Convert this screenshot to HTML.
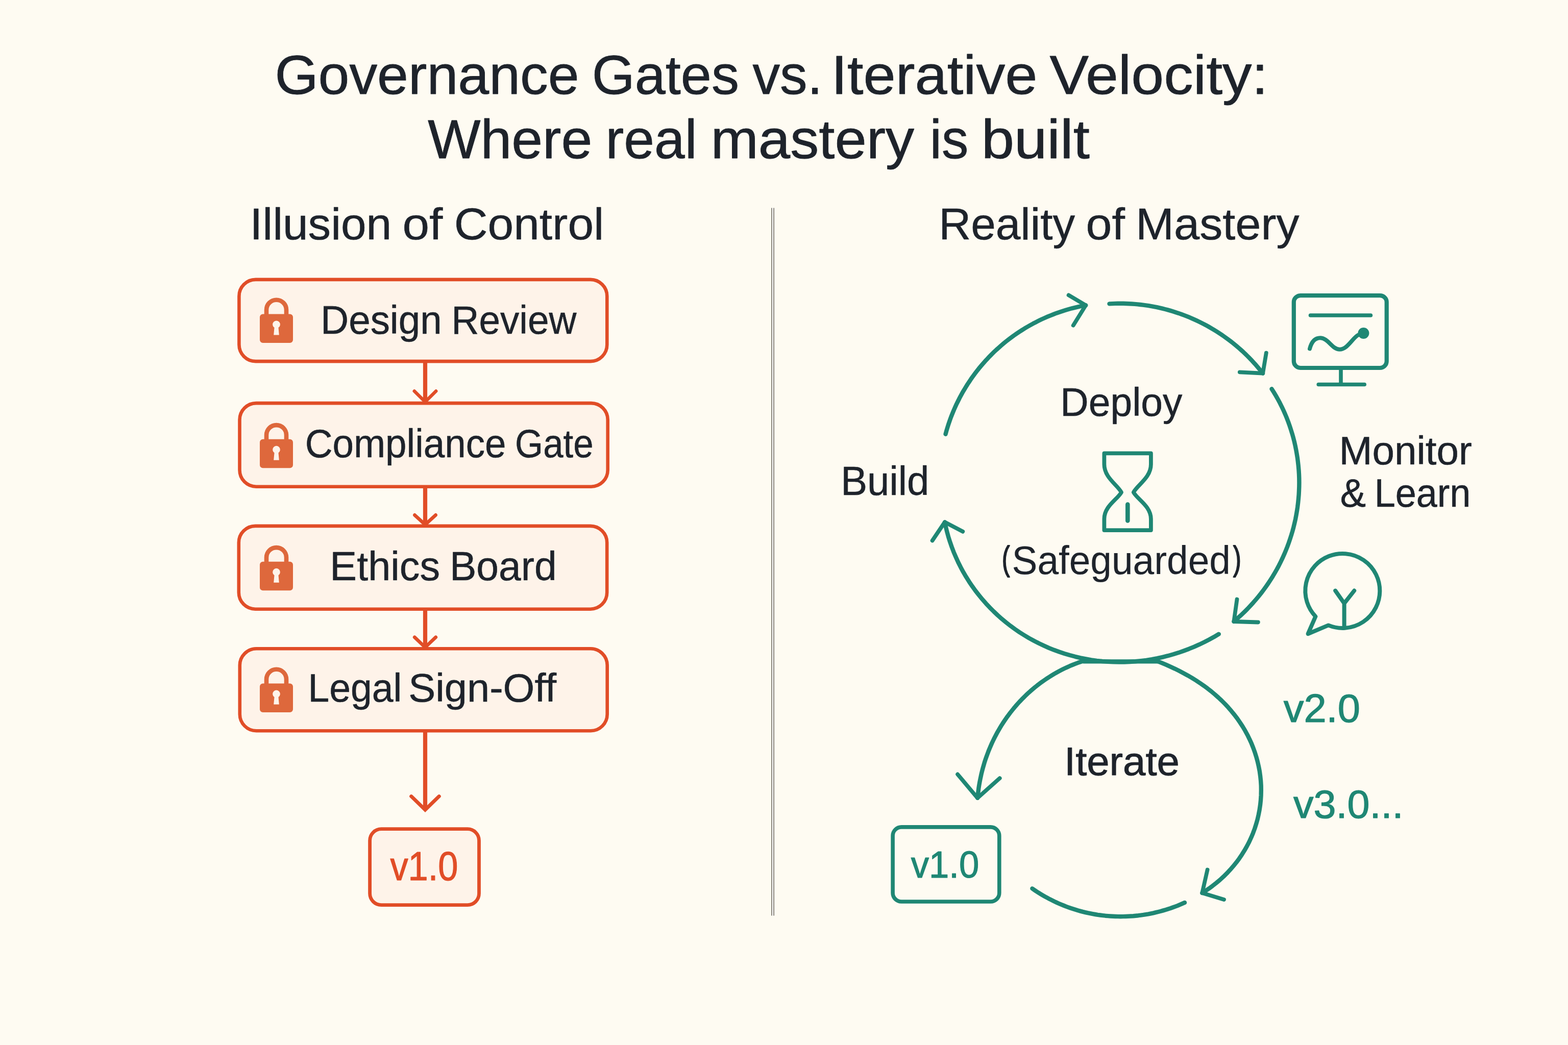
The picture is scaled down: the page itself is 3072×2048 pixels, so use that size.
<!DOCTYPE html>
<html lang="en"><head><meta charset="utf-8"><title>Governance Gates vs. Iterative Velocity</title>
<style>html,body{margin:0;padding:0;background:#FEFBF2;}body{width:3072px;height:2048px;overflow:hidden;}svg{display:block;font-family:"Liberation Sans",Arial,Helvetica,sans-serif;fill:#1E232B;}</style>
</head><body>
<svg xmlns="http://www.w3.org/2000/svg" width="3072" height="2048" viewBox="0 0 3072 2048">
<rect width="3072" height="2048" fill="#FEFBF2"/>
<rect x="1510.9" y="407.5" width="6.2" height="1387" fill="#FFFFFF"/>
<rect x="1510.9" y="407.5" width="2.1" height="1387" fill="#8F8B83"/>
<rect x="1515" y="407.5" width="2.1" height="1387" fill="#8F8B83"/>
<path d="M833 708 V787.5" fill="none" stroke="#E14D27" stroke-width="8.2"/>
<path d="M811.8 766.5 L833 787.5 L854.2 766.5" fill="none" stroke="#E14D27" stroke-width="6.6" stroke-linecap="round" stroke-linejoin="round"/>
<path d="M833 953 V1028.2" fill="none" stroke="#E14D27" stroke-width="8.2"/>
<path d="M812.5 1009.4 L833 1028.2 L853.5 1009.4" fill="none" stroke="#E14D27" stroke-width="6.8" stroke-linecap="round" stroke-linejoin="round"/>
<path d="M833 1193 V1268.6" fill="none" stroke="#E14D27" stroke-width="8.2"/>
<path d="M812.2 1248.8 L833 1268.6 L853.8 1248.8" fill="none" stroke="#E14D27" stroke-width="6.7" stroke-linecap="round" stroke-linejoin="round"/>
<path d="M833 1432 V1587.1" fill="none" stroke="#E14D27" stroke-width="8.2"/>
<path d="M805.7 1560.6 L833 1587.1 L860.3 1560.6" fill="none" stroke="#E14D27" stroke-width="7.0" stroke-linecap="round" stroke-linejoin="miter"/>
<rect x="468.4" y="547.9" width="720.9" height="160.2" rx="32.5" ry="32.5" fill="#FEF3E9" stroke="#E14D27" stroke-width="6.6"/>
<rect x="469.5" y="790.1" width="721.2" height="163.6" rx="32.5" ry="32.5" fill="#FEF3E9" stroke="#E14D27" stroke-width="6.6"/>
<rect x="467.8" y="1030.9" width="721.4" height="162.8" rx="32.5" ry="32.5" fill="#FEF3E9" stroke="#E14D27" stroke-width="6.6"/>
<rect x="469.8" y="1271.3" width="719.9" height="161.0" rx="32.5" ry="32.5" fill="#FEF3E9" stroke="#E14D27" stroke-width="6.6"/>
<path d="M522.0 617.4 V607.2 a19.5 19.5 0 0 1 39 0 V617.4" fill="none" stroke="#DE683C" stroke-width="8.6"/>
<path fill="#DE683C" fill-rule="evenodd" d="M515.0 615.4 H568.0 a6 6 0 0 1 6 6 V665.9 a6 6 0 0 1 -6 6 H515.0 a6 6 0 0 1 -6 -6 V621.4 a6 6 0 0 1 6 -6 Z M537.5 642.1 L536.2 656.4 H546.8 L545.5 642.1 A7.4 7.4 0 1 0 537.5 642.1 Z"/>
<path d="M522.0 862.8 V852.6 a19.5 19.5 0 0 1 39 0 V862.8" fill="none" stroke="#DE683C" stroke-width="8.6"/>
<path fill="#DE683C" fill-rule="evenodd" d="M515.0 860.8 H568.0 a6 6 0 0 1 6 6 V911.3 a6 6 0 0 1 -6 6 H515.0 a6 6 0 0 1 -6 -6 V866.8 a6 6 0 0 1 6 -6 Z M537.5 887.5 L536.2 901.8 H546.8 L545.5 887.5 A7.4 7.4 0 1 0 537.5 887.5 Z"/>
<path d="M522.0 1102.8 V1092.6 a19.5 19.5 0 0 1 39 0 V1102.8" fill="none" stroke="#DE683C" stroke-width="8.6"/>
<path fill="#DE683C" fill-rule="evenodd" d="M515.0 1100.8 H568.0 a6 6 0 0 1 6 6 V1151.3 a6 6 0 0 1 -6 6 H515.0 a6 6 0 0 1 -6 -6 V1106.8 a6 6 0 0 1 6 -6 Z M537.5 1127.5 L536.2 1141.8 H546.8 L545.5 1127.5 A7.4 7.4 0 1 0 537.5 1127.5 Z"/>
<path d="M522.0 1341.5 V1331.3 a19.5 19.5 0 0 1 39 0 V1341.5" fill="none" stroke="#DE683C" stroke-width="8.6"/>
<path fill="#DE683C" fill-rule="evenodd" d="M515.0 1339.5 H568.0 a6 6 0 0 1 6 6 V1390.0 a6 6 0 0 1 -6 6 H515.0 a6 6 0 0 1 -6 -6 V1345.5 a6 6 0 0 1 6 -6 Z M537.5 1366.2 L536.2 1380.5 H546.8 L545.5 1366.2 A7.4 7.4 0 1 0 537.5 1366.2 Z"/>
<rect x="724.6" y="1624.7" width="213.9" height="148.9" rx="22.5" ry="22.5" fill="#FEF3E9" stroke="#E14D27" stroke-width="6.8"/>
<g fill="none" stroke="#1F8774" stroke-width="8.4" stroke-linecap="round" stroke-linejoin="round">
<path d="M1852.5 850.8 L1854.2 844.7 L1856.0 838.6 L1857.9 832.6 L1859.9 826.6 L1862.0 820.7 L1864.2 814.8 L1866.6 808.9 L1869.0 803.1 L1871.6 797.3 L1874.2 791.6 L1877.0 786.0 L1879.8 780.3 L1882.8 774.8 L1885.8 769.2 L1889.0 763.8 L1892.3 758.4 L1895.6 753.0 L1899.1 747.8 L1902.6 742.5 L1906.2 737.4 L1910.0 732.3 L1913.8 727.3 L1917.7 722.3 L1921.7 717.5 L1925.8 712.7 L1930.0 707.9 L1934.3 703.3 L1938.6 698.7 L1943.0 694.2 L1947.5 689.8 L1952.1 685.5 L1956.8 681.3 L1961.5 677.1 L1966.3 673.0 L1971.2 669.0 L1976.2 665.2 L1981.2 661.4 L1986.3 657.6 L1991.5 654.0 L1996.7 650.5 L2002.0 647.1 L2007.4 643.7 L2012.8 640.5 L2018.3 637.4 L2023.8 634.3 L2029.4 631.4 L2035.0 628.6 L2040.7 625.8 L2046.4 623.2 L2052.2 620.7 L2058.0 618.3 L2063.9 616.0 L2069.8 613.7 L2075.7 611.7 L2081.7 609.7 L2087.8 607.8 L2093.8 606.0 L2099.9 604.3 L2106.0 602.8 L2112.1 601.4 L2118.3 600.0 L2124.5 598.8 L2127.2 598.3"/>
<path d="M2093.6 578.4 L2127.2 598.3 L2102.7 637.7" stroke-width="7.8"/>
<path d="M2173.5 595.4 L2179.0 595.1 L2184.5 594.9 L2190.0 594.8 L2195.5 594.8 L2201.0 594.8 L2206.5 595.0 L2212.0 595.2 L2217.5 595.5 L2223.0 595.9 L2228.5 596.4 L2234.0 597.0 L2239.5 597.7 L2244.9 598.4 L2250.4 599.2 L2255.8 600.2 L2261.2 601.2 L2266.6 602.2 L2272.0 603.4 L2277.3 604.7 L2282.7 606.0 L2288.0 607.4 L2293.3 608.9 L2298.6 610.5 L2303.8 612.2 L2309.1 613.9 L2314.3 615.7 L2319.4 617.6 L2324.6 619.6 L2329.7 621.7 L2334.7 623.8 L2339.8 626.1 L2344.8 628.4 L2349.7 630.7 L2354.7 633.2 L2359.6 635.7 L2364.4 638.3 L2369.2 641.0 L2374.0 643.8 L2378.7 646.6 L2383.4 649.5 L2388.0 652.5 L2392.6 655.5 L2397.1 658.6 L2401.6 661.8 L2406.1 665.1 L2410.5 668.4 L2414.8 671.8 L2419.1 675.3 L2423.3 678.8 L2427.5 682.4 L2431.6 686.0 L2435.7 689.7 L2439.7 693.5 L2443.6 697.4 L2447.5 701.3 L2451.3 705.2 L2455.1 709.3 L2458.8 713.3 L2462.4 717.5 L2466.0 721.7 L2469.5 725.9 L2472.9 730.2 L2474.1 731.7"/>
<path d="M2480.8 691.7 L2474.1 731.7 L2428.8 729.3" stroke-width="7.8"/>
<path d="M2491.5 762.2 L2495.8 769.0 L2499.9 775.9 L2503.9 783.0 L2507.7 790.1 L2511.3 797.3 L2514.7 804.6 L2518.0 812.0 L2521.1 819.4 L2524.0 827.0 L2526.7 834.6 L2529.2 842.2 L2531.6 849.9 L2533.8 857.7 L2535.8 865.5 L2537.6 873.4 L2539.2 881.3 L2540.6 889.3 L2541.9 897.2 L2542.9 905.2 L2543.8 913.3 L2544.5 921.3 L2545.0 929.4 L2545.3 937.4 L2545.4 945.5 L2545.3 953.6 L2545.0 961.6 L2544.6 969.7 L2543.9 977.7 L2543.1 985.8 L2542.1 993.8 L2540.9 1001.8 L2539.5 1009.7 L2538.0 1017.6 L2536.2 1025.5 L2534.3 1033.3 L2532.2 1041.1 L2529.9 1048.8 L2527.4 1056.5 L2524.8 1064.1 L2522.0 1071.7 L2519.0 1079.2 L2515.9 1086.6 L2512.6 1093.9 L2509.1 1101.2 L2505.5 1108.4 L2501.7 1115.5 L2497.7 1122.5 L2493.6 1129.4 L2489.3 1136.2 L2484.9 1143.0 L2480.3 1149.6 L2475.6 1156.1 L2470.7 1162.6 L2465.7 1168.9 L2460.5 1175.1 L2455.3 1181.1 L2449.8 1187.1 L2444.3 1193.0 L2438.6 1198.7 L2432.8 1204.3 L2426.8 1209.7 L2420.8 1215.1 L2417.4 1218.0"/>
<path d="M2423.5 1174.5 L2417.4 1218.0 L2464.9 1219.5" stroke-width="7.8"/>
<path d="M2387.8 1242.7 L2378.4 1248.3 L2368.9 1253.5 L2359.2 1258.5 L2349.4 1263.2 L2339.5 1267.6 L2329.4 1271.7 L2319.3 1275.5 L2309.1 1279.1 L2298.7 1282.3 L2288.3 1285.2 L2277.8 1287.8 L2267.2 1290.2 L2256.6 1292.2 L2245.9 1293.9 L2235.2 1295.2 L2224.4 1296.3 L2213.6 1297.0 L2202.8 1297.5 L2192.0 1297.6 L2181.2 1297.4 L2170.4 1296.8 L2159.6 1296.0 L2148.9 1294.8 L2138.2 1293.3 L2127.5 1291.4 L2116.9 1289.3 L2106.3 1286.8 L2095.9 1284.0 L2085.5 1280.9 L2075.2 1277.5 L2065.0 1273.8 L2055.0 1269.8 L2045.1 1265.4 L2035.3 1260.8 L2025.6 1255.8 L2016.1 1250.6 L2006.8 1245.0 L1997.6 1239.2 L1988.7 1233.1 L1979.9 1226.7 L1971.3 1220.0 L1962.9 1213.1 L1954.8 1205.9 L1946.9 1198.4 L1939.2 1190.7 L1931.8 1182.8 L1924.6 1174.6 L1917.7 1166.2 L1911.0 1157.6 L1904.7 1148.8 L1898.6 1139.8 L1892.8 1130.6 L1887.3 1121.2 L1882.2 1111.7 L1877.3 1102.0 L1872.8 1092.1 L1868.5 1082.1 L1864.7 1072.0 L1861.1 1061.7 L1857.9 1051.4 L1855.0 1040.9 L1852.5 1030.4 L1851.0 1023.3"/>
<path d="M1826.6 1059.5 L1851.0 1023.3 L1886.3 1041.8" stroke-width="7.8"/>
<path d="M2123.1 1295.1 L2117.6 1296.9 L2112.1 1298.8 L2106.7 1300.9 L2101.4 1303.0 L2096.0 1305.2 L2090.8 1307.6 L2085.5 1310.0 L2080.4 1312.6 L2075.2 1315.3 L2070.2 1318.0 L2065.1 1320.9 L2060.2 1323.9 L2055.3 1327.0 L2050.4 1330.1 L2045.7 1333.4 L2040.9 1336.7 L2036.3 1340.2 L2031.7 1343.7 L2027.2 1347.3 L2022.8 1351.0 L2018.4 1354.8 L2014.1 1358.7 L2009.9 1362.6 L2005.8 1366.7 L2001.7 1370.8 L1997.7 1375.0 L1993.8 1379.3 L1990.0 1383.6 L1986.3 1388.0 L1982.7 1392.5 L1979.1 1397.0 L1975.6 1401.7 L1972.2 1406.3 L1968.9 1411.1 L1965.7 1415.9 L1962.6 1420.7 L1959.6 1425.7 L1956.7 1430.6 L1953.8 1435.7 L1951.1 1440.7 L1948.4 1445.9 L1945.9 1451.0 L1943.4 1456.3 L1941.1 1461.5 L1938.8 1466.8 L1936.6 1472.2 L1934.6 1477.6 L1932.6 1483.0 L1930.7 1488.4 L1928.9 1493.9 L1927.3 1499.5 L1925.7 1505.0 L1924.2 1510.6 L1922.8 1516.2 L1921.6 1521.8 L1920.4 1527.5 L1919.3 1533.1 L1918.3 1538.8 L1917.4 1544.5 L1916.7 1550.3 L1916.0 1556.0 L1915.4 1561.8 L1915.2 1563.9"/>
<path d="M1876.1 1517.4 L1915.2 1563.9 L1958.7 1525.1" stroke-width="7.8"/>
<path d="M2266.2 1295.3 L2275.3 1298.9 L2284.3 1302.7 L2293.1 1306.6 L2301.7 1310.6 L2310.2 1314.8 L2318.6 1319.2 L2326.8 1323.7 L2334.9 1328.4 L2342.8 1333.3 L2350.6 1338.4 L2358.2 1343.7 L2365.7 1349.2 L2373.0 1354.9 L2380.1 1360.9 L2387.0 1367.0 L2393.8 1373.4 L2400.3 1379.9 L2406.6 1386.7 L2412.7 1393.8 L2418.6 1401.0 L2424.2 1408.4 L2429.5 1416.1 L2434.6 1423.9 L2439.4 1431.9 L2443.9 1440.2 L2448.0 1448.6 L2451.9 1457.1 L2455.4 1465.9 L2458.6 1474.7 L2461.4 1483.7 L2463.9 1492.9 L2466.0 1502.1 L2467.8 1511.4 L2469.1 1520.8 L2470.1 1530.2 L2470.7 1539.7 L2470.8 1549.2 L2470.6 1558.7 L2470.0 1568.2 L2469.0 1577.7 L2467.6 1587.1 L2465.8 1596.4 L2463.7 1605.7 L2461.1 1614.8 L2458.2 1623.9 L2454.9 1632.8 L2451.2 1641.6 L2447.2 1650.2 L2442.8 1658.6 L2438.1 1666.8 L2433.1 1674.8 L2427.8 1682.7 L2422.2 1690.2 L2416.2 1697.6 L2410.0 1704.7 L2403.6 1711.6 L2396.9 1718.2 L2390.0 1724.5 L2382.8 1730.5 L2375.4 1736.3 L2367.9 1741.8 L2360.1 1747.1 L2355.3 1750.1"/>
<path d="M2365.6 1704.5 L2355.3 1750.1 L2398.0 1763.1" stroke-width="7.8"/>
<path d="M2022.4 1741.4 L2026.5 1744.2 L2030.6 1747.0 L2034.8 1749.7 L2039.1 1752.3 L2043.3 1754.8 L2047.7 1757.3 L2052.0 1759.7 L2056.4 1762.1 L2060.9 1764.3 L2065.3 1766.5 L2069.8 1768.6 L2074.4 1770.7 L2079.0 1772.7 L2083.6 1774.5 L2088.2 1776.4 L2092.9 1778.1 L2097.6 1779.8 L2102.3 1781.3 L2107.1 1782.8 L2111.8 1784.3 L2116.6 1785.6 L2121.4 1786.9 L2126.3 1788.1 L2131.1 1789.2 L2136.0 1790.2 L2140.9 1791.1 L2145.8 1792.0 L2150.7 1792.8 L2155.7 1793.5 L2160.6 1794.1 L2165.6 1794.7 L2170.5 1795.1 L2175.5 1795.5 L2180.5 1795.8 L2185.4 1796.0 L2190.4 1796.1 L2195.4 1796.2 L2200.4 1796.1 L2205.4 1796.0 L2210.3 1795.8 L2215.3 1795.5 L2220.3 1795.2 L2225.2 1794.7 L2230.2 1794.2 L2235.1 1793.6 L2240.1 1792.9 L2245.0 1792.1 L2249.9 1791.3 L2254.8 1790.3 L2259.7 1789.3 L2264.5 1788.2 L2269.4 1787.0 L2274.2 1785.8 L2279.0 1784.4 L2283.8 1783.0 L2288.5 1781.5 L2293.3 1780.0 L2298.0 1778.3 L2302.6 1776.6 L2307.3 1774.8 L2311.9 1772.9 L2316.5 1770.9 L2321.0 1768.9"/>
<path d="M2123 1296.4 H2267" stroke-width="8.4"/>
</g>
<g fill="none" stroke="#1F8774" stroke-width="8.2" stroke-linecap="round" stroke-linejoin="round">
<rect x="2534.8" y="579.1" width="181.9" height="141.9" rx="13" ry="13"/>
<path d="M2567.5 618 H2685.4" stroke-width="7.6"/>
<path d="M2566 683.5 C2570 668 2578 662.3 2586.5 662.3 C2602 662.3 2610 684.8 2624.5 684.8 C2640 684.8 2650 662 2661 656.5" stroke-width="8"/>
<path d="M2627 723 V753.5 M2583.2 753.5 H2673.2" stroke-width="7.6"/>
<circle cx="2671.4" cy="653" r="11" fill="#1F8774" stroke="none"/>
</g>
<g fill="none" stroke="#1F8774" stroke-width="7.8" stroke-linecap="round" stroke-linejoin="round">
<path d="M2163.4 888.3 H2254.9 V910 C2254.9 936 2228.8 950 2220.8 964.8 C2228.8 979 2254.9 992 2254.9 1017 V1039.1 H2163.4 V1017 C2163.4 992 2189 979 2197 964.8 C2189 950 2163.4 936 2163.4 910 Z"/>
<path d="M2209.3 988.5 V1020.5" stroke-width="8.6"/>
</g>
<g fill="none" stroke="#1F8774" stroke-width="8" stroke-linecap="round" stroke-linejoin="round">
<path d="M2577.4 1208.2 A73.0 73.0 0 1 1 2602.5 1225.4 L2562.6 1242.2 Z"/>
<path d="M2633.6 1229 V1182.5 M2616.2 1157.6 L2633.6 1182.5 L2653.2 1157.6"/>
</g>
<rect x="1749.1" y="1620.9" width="208.7" height="146.1" rx="17" ry="17" fill="none" stroke="#1F8774" stroke-width="7.6"/>
<text font-size="108.4" stroke="#1E232B" stroke-width="0.9" stroke-linejoin="round"><tspan x="538.4" y="184.3" textLength="596.2" lengthAdjust="spacingAndGlyphs">Governance</tspan> <tspan x="1159.7" y="184.3" textLength="288.3" lengthAdjust="spacingAndGlyphs">Gates</tspan> <tspan x="1474.5" y="184.3" textLength="137.0" lengthAdjust="spacingAndGlyphs">vs.</tspan> <tspan x="1628.5" y="184.3" textLength="403.9" lengthAdjust="spacingAndGlyphs">Iterative</tspan> <tspan x="2056.6" y="184.3" textLength="427.9" lengthAdjust="spacingAndGlyphs">Velocity:</tspan></text>
<text font-size="108.4" stroke="#1E232B" stroke-width="0.9" stroke-linejoin="round"><tspan x="838.2" y="309.8" textLength="322.2" lengthAdjust="spacingAndGlyphs">Where</tspan> <tspan x="1186.5" y="309.8" textLength="179.0" lengthAdjust="spacingAndGlyphs">real</tspan> <tspan x="1392.5" y="309.8" textLength="398.6" lengthAdjust="spacingAndGlyphs">mastery</tspan> <tspan x="1821.7" y="309.8" textLength="75.5" lengthAdjust="spacingAndGlyphs">is</tspan> <tspan x="1922.7" y="309.8" textLength="212.2" lengthAdjust="spacingAndGlyphs">built</tspan></text>
<text font-size="86.5" stroke="#1E232B" stroke-width="0.6" stroke-linejoin="round"><tspan x="489.6" y="468.6" textLength="277.6" lengthAdjust="spacingAndGlyphs">Illusion</tspan> <tspan x="788.4" y="468.6" textLength="78.9" lengthAdjust="spacingAndGlyphs">of</tspan> <tspan x="889.8" y="468.6" textLength="293.5" lengthAdjust="spacingAndGlyphs">Control</tspan></text>
<text font-size="86.5" stroke="#1E232B" stroke-width="0.6" stroke-linejoin="round"><tspan x="1839.2" y="468.6" textLength="266.9" lengthAdjust="spacingAndGlyphs">Reality</tspan> <tspan x="2127.6" y="468.6" textLength="76.3" lengthAdjust="spacingAndGlyphs">of</tspan> <tspan x="2225.0" y="468.6" textLength="320.6" lengthAdjust="spacingAndGlyphs">Mastery</tspan></text>
<text font-size="77.1" stroke="#1E232B" stroke-width="0.6" stroke-linejoin="round"><tspan x="628.1" y="654.1" textLength="237.6" lengthAdjust="spacingAndGlyphs">Design</tspan> <tspan x="884.5" y="654.1" textLength="244.9" lengthAdjust="spacingAndGlyphs">Review</tspan></text>
<text font-size="77.1" stroke="#1E232B" stroke-width="0.6" stroke-linejoin="round"><tspan x="597.7" y="895.6" textLength="393.7" lengthAdjust="spacingAndGlyphs">Compliance</tspan> <tspan x="1009.1" y="895.6" textLength="153.4" lengthAdjust="spacingAndGlyphs">Gate</tspan></text>
<text font-size="79.2" stroke="#1E232B" stroke-width="0.6" stroke-linejoin="round"><tspan x="646.3" y="1137.1" textLength="215.7" lengthAdjust="spacingAndGlyphs">Ethics</tspan> <tspan x="880.9" y="1137.1" textLength="209.7" lengthAdjust="spacingAndGlyphs">Board</tspan></text>
<text font-size="77.8" stroke="#1E232B" stroke-width="0.6" stroke-linejoin="round"><tspan x="603.5" y="1375.3" textLength="183.8" lengthAdjust="spacingAndGlyphs">Legal</tspan> <tspan x="800.2" y="1375.3" textLength="289.9" lengthAdjust="spacingAndGlyphs">Sign-Off</tspan></text>
<text font-size="79.3" fill="#E14D27" stroke="#E14D27" stroke-width="1.2" stroke-linejoin="round"><tspan x="764.4" y="1725.2" textLength="133.0" lengthAdjust="spacingAndGlyphs">v1.0</tspan></text>
<text font-size="77.1" stroke="#1E232B" stroke-width="0.6" stroke-linejoin="round"><tspan x="2077.3" y="815.4" textLength="239.0" lengthAdjust="spacingAndGlyphs">Deploy</tspan></text>
<text font-size="79.2" stroke="#1E232B" stroke-width="0.6" stroke-linejoin="round"><tspan x="1647.2" y="969.9" textLength="173.1" lengthAdjust="spacingAndGlyphs">Build</tspan></text>
<text font-size="77.5" stroke="#1E232B" stroke-width="0.2" stroke-linejoin="round"><tspan x="1962.9" y="1117.0" font-size="67.5" stroke-width="2.2" textLength="15.4" lengthAdjust="spacingAndGlyphs">(</tspan><tspan x="1982.5" y="1124.5" textLength="428.4" lengthAdjust="spacingAndGlyphs">Safeguarded</tspan><tspan x="2415.9" y="1117.0" font-size="67.5" stroke-width="2.2" textLength="15.6" lengthAdjust="spacingAndGlyphs">)</tspan></text>
<text font-size="78.1" stroke="#1E232B" stroke-width="0.6" stroke-linejoin="round"><tspan x="2623.6" y="910.4" textLength="260.2" lengthAdjust="spacingAndGlyphs">Monitor</tspan></text>
<text font-size="78.1" stroke="#1E232B" stroke-width="0.6" stroke-linejoin="round"><tspan x="2625.6" y="992.6" textLength="50.6" lengthAdjust="spacingAndGlyphs">&amp;</tspan> <tspan x="2692.7" y="992.6" textLength="188.7" lengthAdjust="spacingAndGlyphs">Learn</tspan></text>
<text font-size="78.0" stroke="#1E232B" stroke-width="1.0" stroke-linejoin="round"><tspan x="2085.0" y="1519.2" textLength="225.9" lengthAdjust="spacingAndGlyphs">Iterate</tspan></text>
<text font-size="77.1" fill="#1F8774" stroke="#1F8774" stroke-width="1.2" stroke-linejoin="round"><tspan x="2514.7" y="1415.2" textLength="150.2" lengthAdjust="spacingAndGlyphs">v2.0</tspan></text>
<text font-size="77.1" fill="#1F8774" stroke="#1F8774" stroke-width="1.2" stroke-linejoin="round"><tspan x="2534.1" y="1603.4" textLength="215.3" lengthAdjust="spacingAndGlyphs">v3.0...</tspan></text>
<text font-size="74.5" fill="#1F8774" stroke="#1F8774" stroke-width="1.2" stroke-linejoin="round"><tspan x="1784.7" y="1720.1" textLength="133.6" lengthAdjust="spacingAndGlyphs">v1.0</tspan></text>
</svg></body></html>
